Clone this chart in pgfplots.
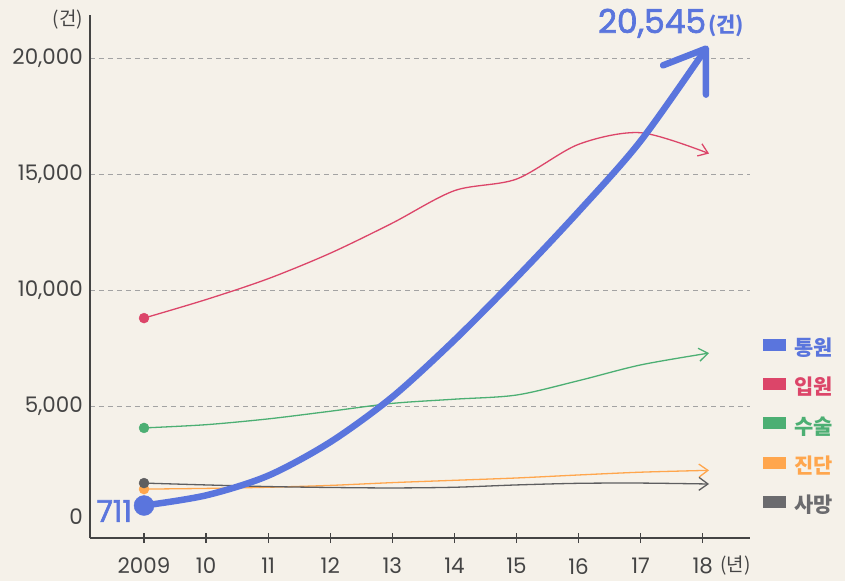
\documentclass[border=0pt]{standalone}
\usepackage{pgfplots}
\pgfplotsset{compat=1.18}
\usepackage{fontspec}
\setmainfont{Poppins}
\newfontfamily\popm{Poppins}[FakeBold=2]
\newfontfamily\kr{Noto Sans CJK KR}
\usetikzlibrary{arrows.meta}
\definecolor{bg}{HTML}{F5F1E9}
\definecolor{cblue}{HTML}{5A75DD}
\definecolor{cred}{HTML}{DC4569}
\definecolor{cgreen}{HTML}{4CAF73}
\definecolor{corange}{HTML}{FFA64D}
\definecolor{cgray}{HTML}{5E5E60}
\definecolor{lgray}{HTML}{6B6B6E}
\definecolor{txt}{HTML}{444444}
\definecolor{gridc}{HTML}{A3A3A3}
\begin{document}
\begin{tikzpicture}
\fill[bg] (-90bp,-43bp) rectangle (755bp,538bp);
\useasboundingbox (-90bp,-43bp) rectangle (755bp,538bp);
\begin{axis}[
  at={(0,0)}, anchor=south west,
  scale only axis, width=660bp, height=523bp,
  xmin=2008.13, xmax=2018.76, ymin=-690, ymax=21880,
  axis lines=left,
  axis line style={-, draw=txt, line width=1.4bp},
  clip=false,
  xtick={2009,...,2018},
  xticklabels={2009,10,11,12,13,14,15,16,17,18},
  ytick={5000,10000,15000,20000},
  extra y ticks={0},
  extra y tick style={grid=none, yticklabel style={yshift=5bp}},
  ymajorgrids,
  major grid style={gridc, line width=0.9bp, dash pattern=on 5bp off 4bp},
  scaled y ticks=false,
  tick align=center,
  major tick length=10bp,
  xtick style={draw=txt, line width=1.2bp},
  ytick style={draw=none},
  ticklabel style={font=\fontsize{21.5}{24}\selectfont, text=txt},
  yticklabel style={inner sep=0pt, xshift=-2bp, /pgf/number format/1000 sep={,}, /pgf/number format/assume math mode=true},
  xticklabel style={inner sep=0pt, yshift=-15bp},
  legend cell align=left,
  legend style={at={(rel axis cs:1.0197,0.3805)}, anchor=north west, draw=none, fill=none,
    inner sep=0pt, outer sep=0pt, row sep=18.5bp, column sep=9bp,
    font=\kr\bfseries\fontsize{21}{24}\selectfont,
    nodes={inner sep=0pt, text height=14bp, text depth=4bp}},
]
% orange: 진단
\addplot[forget plot, corange, line width=1.3bp, smooth,
  -{Straight Barb[length=9bp,width=13bp]},
  mark=*, mark indices={1}, mark size=5bp, mark options={solid, fill=corange, draw=corange, line width=0.4bp}]
  coordinates {(2009,1420) (2010,1450) (2011,1500) (2012,1580) (2013,1700) (2014,1800) (2015,1900) (2016,2030) (2017,2150) (2018.1,2230)};
% gray: 사망
\addplot[forget plot, cgray, line width=1.3bp, smooth,
  -{Straight Barb[length=9bp,width=13bp]},
  mark=*, mark indices={1}, mark size=5bp, mark options={solid, fill=cgray, draw=cgray, line width=0.4bp}]
  coordinates {(2009,1680) (2010,1600) (2011,1530) (2012,1490) (2013,1470) (2014,1500) (2015,1600) (2016,1670) (2017,1680) (2018.1,1640)};
% green: 수술
\addplot[forget plot, cgreen, line width=1.3bp, smooth,
  -{Straight Barb[length=9bp,width=13bp]},
  mark=*, mark indices={1}, mark size=5bp, mark options={solid, fill=cgreen, draw=cgreen, line width=0.4bp}]
  coordinates {(2009,4060) (2010,4200) (2011,4450) (2012,4780) (2013,5120) (2014,5300) (2015,5480) (2016,6100) (2017,6780) (2018.1,7290)};
% red: 입원
\addplot[forget plot, cred, line width=1.3bp, smooth,
  -{Straight Barb[length=9bp,width=13bp]},
  mark=*, mark indices={1}, mark size=5bp, mark options={solid, fill=cred, draw=cred, line width=0.4bp}]
  coordinates {(2009,8800) (2010,9600) (2011,10500) (2012,11600) (2013,12900) (2014,14300) (2015,14800) (2016,16300) (2017,16800) (2018.1,15900)};
% blue: 통원
\addplot[forget plot, cblue, line width=6.5bp, smooth, line cap=round, line join=round,
  -{Straight Barb[length=38bp,width=52bp,round]},
  mark=*, mark indices={1}, mark size=10bp, mark options={solid, fill=cblue, draw=cblue, line width=0.4bp}]
  coordinates {(2009,711) (2010,1150) (2011,2000) (2012,3450) (2013,5400) (2014,7850) (2015,10550) (2016,13400) (2017,16450) (2018.08,20545)};

\addlegendimage{legend image code/.code={\fill[cblue] (0bp,0.5bp) rectangle (22bp,11.5bp);}}
\addlegendentry{\textcolor{cblue}{통원}}
\addlegendimage{legend image code/.code={\fill[cred] (0bp,0.5bp) rectangle (22bp,11.5bp);}}
\addlegendentry{\textcolor{cred}{입원}}
\addlegendimage{legend image code/.code={\fill[cgreen] (0bp,0.5bp) rectangle (22bp,11.5bp);}}
\addlegendentry{\textcolor{cgreen}{수술}}
\addlegendimage{legend image code/.code={\fill[corange] (0bp,0.5bp) rectangle (22bp,11.5bp);}}
\addlegendentry{\textcolor{corange}{진단}}
\addlegendimage{legend image code/.code={\fill[lgray] (0bp,0.5bp) rectangle (22bp,11.5bp);}}
\addlegendentry{\textcolor{lgray}{사망}}

\node[anchor=base west, text=cblue, inner sep=0pt] at (axis cs:2016.31,21103)
  {\popm\fontsize{33}{36}\selectfont 20,545\kern2bp{\kr\bfseries\fontsize{21}{24}\selectfont(건)}};
\node[anchor=east, text=cblue, inner sep=0pt] at (axis cs:2008.81,475)
  {\popm\fontsize{30}{32}\selectfont 711};
\node[anchor=east, text=txt, inner sep=0pt] at (axis cs:2008.018,21664)
  {\kr\fontsize{19}{22}\selectfont(건)};
\node[anchor=west, text=txt, inner sep=0pt] at (axis cs:2018.28,-1899)
  {\kr\fontsize{19}{22}\selectfont(년)};
\end{axis}
\end{tikzpicture}
\end{document}
